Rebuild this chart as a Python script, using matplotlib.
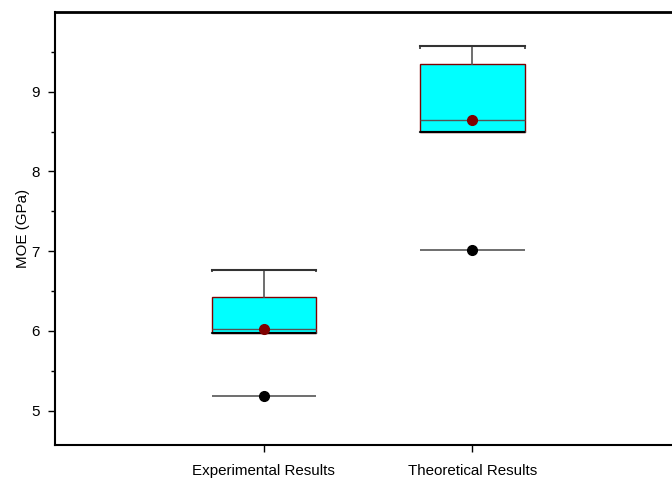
import matplotlib
matplotlib.use("Agg")
import matplotlib.pyplot as plt

plt.rcParams['font.family'] = ['Liberation Sans', 'DejaVu Sans']

categories = ["Experimental Results", "Theoretical Results"]
q1 = [5.98, 8.50]
median = [6.02, 8.64]
q3 = [6.43, 9.35]
whisker_high = [6.77, 9.57]
whisker_low = [5.98, 8.50]
means = [6.03, 8.65]
outliers = [5.18, 7.01]

positions = [1, 2]
box_w = 0.5

fig = plt.figure(figsize=(6.72, 4.8), dpi=100)
ax = fig.add_axes([55/672, 35/480, 626/672, 433/480])

stats = []
for i in range(2):
    stats.append(dict(med=median[i], q1=q1[i], q3=q3[i], whislo=whisker_low[i],
                      whishi=whisker_high[i], mean=means[i], fliers=[], label=categories[i]))

ax.bxp(stats, positions=positions, widths=box_w, patch_artist=True, showmeans=False,
       boxprops=dict(facecolor='#00FFFF', edgecolor='#800000', linewidth=1.0),
       medianprops=dict(color='#555555', linewidth=1.0),
       whiskerprops=dict(color='#555555', linewidth=1.2),
       capprops=dict(color='#333333', linewidth=1.5),
       capwidths=box_w)

for i, p in enumerate(positions):
    ax.hlines(q1[i], p - box_w/2, p + box_w/2, color='black', linewidth=1.5, zorder=3)
    ax.vlines([p - box_w/2, p + box_w/2], whisker_high[i] - 0.03, whisker_high[i],
              color='#333333', linewidth=1.2, zorder=3)
    ax.hlines(outliers[i], p - box_w/2, p + box_w/2, color='#555555', linewidth=1.2, zorder=3)

ax.plot(positions, outliers, 'o', color='black', markersize=7, zorder=4, linestyle='none')
ax.plot(positions, means, 'o', color='#800000', markersize=7, zorder=4, linestyle='none')

fs = 10.9
ax.set_xlim(0, 3)
ax.set_ylim(4.57, 10.0)
ax.set_xticks(positions)
ax.set_xticklabels(categories, fontsize=fs)
ax.set_yticks([5, 6, 7, 8, 9])
ax.set_yticks([5.5, 6.5, 7.5, 8.5, 9.5], minor=True)
ax.tick_params(axis='y', which='major', length=5, width=1, labelsize=fs, direction='out', pad=6)
ax.tick_params(axis='y', which='minor', length=3, width=1, direction='out')
ax.tick_params(axis='x', which='major', length=5, width=1, labelsize=fs, pad=9)
ax.set_ylabel("MOE (GPa)", fontsize=fs, labelpad=1)

ax.spines['right'].set_visible(False)
ax.spines['top'].set_linewidth(2)
ax.spines['bottom'].set_linewidth(1.5)
ax.spines['left'].set_linewidth(1.5)

fig.savefig("out.png", dpi=100)
